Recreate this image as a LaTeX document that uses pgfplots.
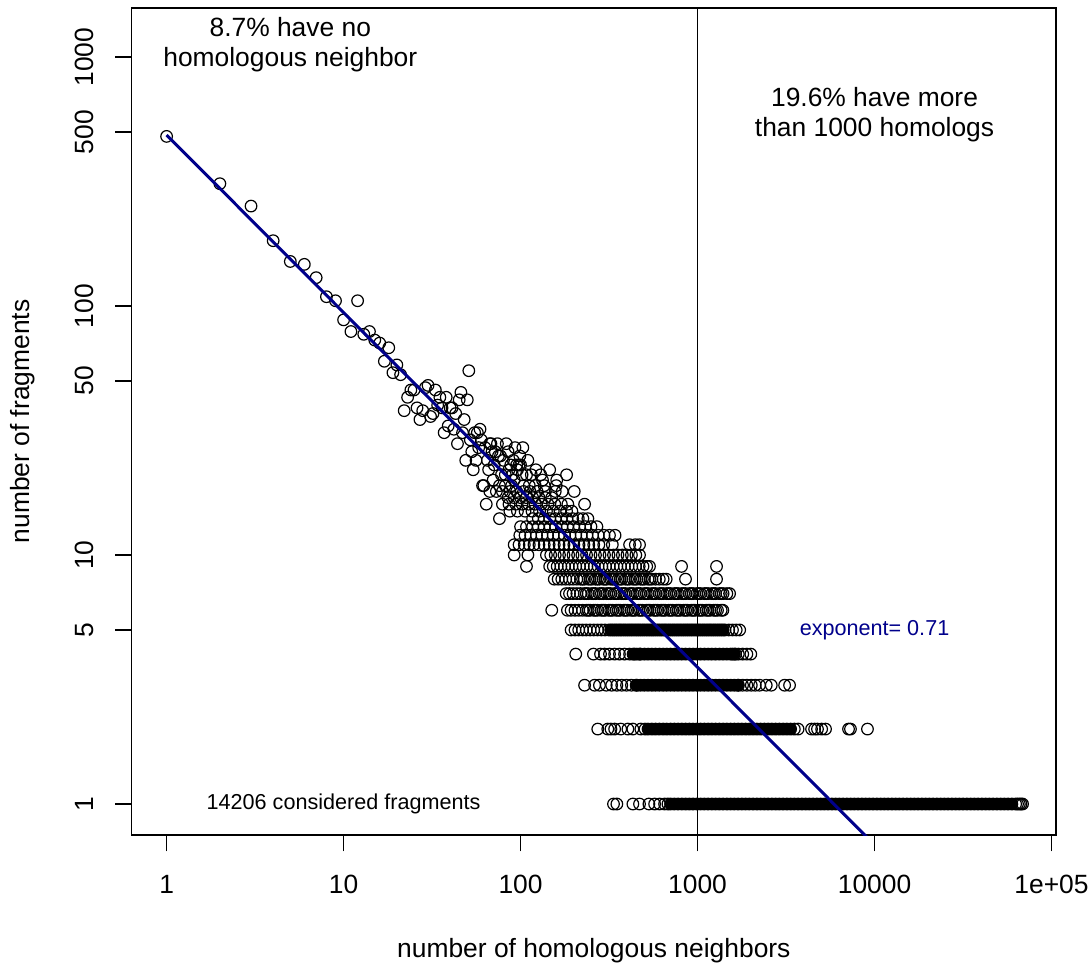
\documentclass[border=0pt]{standalone}
\usepackage{fontspec}
\setmainfont{Liberation Sans}
\usepackage{pgfplots}
\pgfplotsset{compat=1.18}
\definecolor{fitblue}{HTML}{00008B}
\pgfplotsset{
  ring/.style={only marks, mark=o, mark size=2.9bp, mark options={line width=0.6bp, draw=black}},
  core/.style={only marks, mark=*, mark size=2.9bp, mark options={line width=0.6bp, draw=black, fill=black}},
}
\begin{document}
\begin{tikzpicture}[font=\fontsize{13.2bp}{15bp}\selectfont]
\path[use as bounding box] (-65.85bp,-65bp) rectangle (480.15bp,417.5bp);
\begin{loglogaxis}[
  at={(0,0)}, anchor=south west, scale only axis,
  width=462.15bp, height=413.5bp,
  xmin=0.635, xmax=106000, ymin=0.751, ymax=1574,
  clip mode=individual,
  axis line style={line width=0.6bp},
  xtick={1,10,100,1000,10000,100000},
  xticklabels={1,10,100,1000,10000,1e+05},
  ytick={1,5,10,50,100,500,1000},
  yticklabels={1,5,10,50,100,500,1000},
  xminorticks=false, yminorticks=false,
  tick align=outside, tick pos=left,
  major tick length=8.25bp,
  tick style={line width=0.6bp, black},
  tick label style={font=\fontsize{13.2bp}{15bp}\selectfont},
  xticklabel style={inner sep=0pt, anchor=north, yshift=-11.75bp},
  yticklabel style={inner sep=0pt, xshift=-10.95bp, rotate=90, anchor=base},
  xlabel={number of homologous neighbors},
  ylabel={number of fragments},
  label style={font=\fontsize{13.2bp}{15bp}\selectfont, inner sep=0pt},
  xlabel style={at={(axis description cs:0.5,-0.1487)}, anchor=base},
  ylabel style={at={(axis description cs:-0.1104,0.5)}, anchor=base},
]
\addplot[black, line width=0.6bp] coordinates {(1000,0.751) (1000,1574)};
% individual counts at small x
\addplot[ring] coordinates {(1,480)(2,310)(3,252)(4,183)(5,151)(6,147)(7,130)(8,109)(9,105)(10,88)(11,79)(12,105)(13,77)(14,79)(15,73)(16,71)(17,60)(18,68)(19,54)(20,58)(21,53)(22,38)(23,43)(24,46)(25,46)(26,39)(27,35)(28,38)(29,47)(30,48)(31,36)(32,37)(33,46)(34,40)(35,43)(36,39)(37,31)(38,43)(39,33)(40,39)(41,39)(42,32)(43,37)(44,28)(45,42)(46,45)(47,31)(48,35)(49,24)(50,42)(51,55)(52,29)(53,26)(54,22)(55,31)(56,24)(57,31)(58,27)(59,32)(60,29)(61,19)(62,19)(63,27)(64,16)(65,24)(66,22)(67,28)(68,28)(69,26)(70,20)(71,23)(72,26)(74,28)(75,25)(77,25)(80,24)(83,28)(85,26)(86,22)(88,23)(91,24)(93,27)(95,23)(96,22)(98,23)(99,25)(100,23)(103,27)(110,24)(115,21)(122,22)(146,22)};
% rows y = 21 ... 10
\addplot[ring] coordinates {(78,21)(82,21)(90,21)(102,21)(108,21)(130,21)(182,21)(92,20)(133,20)(160,20)(76,19)(82,19)(89,19)(104,19)(112,19)(121,19)(136,19)(159,19)(67,18)(73,18)(79,18)(87,18)(95,18)(104,18)(113,18)(124,18)(138,18)(157,18)(172,18)(201,18)(85,17)(92,17)(100,17)(108,17)(117,17)(127,17)(138,17)(150,17)};
\addplot[ring] coordinates {(79,16)(86,16)(94,16)(102,16)(111,16)(121,16)(131,16)(143,16)(156,16)(170,16)(185,16)(230,16)(87,15)(96,15)(106,15)(116,15)(128,15)(140,15)(153,15)(167,15)(182,15)(195,15)(76,14)(117,14)(126,14)(136,14)(146,14)(157,14)(170,14)(183,14)(197,14)(212,14)(225,14)(240,14)};
\addplot[ring] coordinates {(100,13)(108,13)(117,13)(126,13)(136,13)(147,13)(158,13)(171,13)(184,13)(199,13)(215,13)(232,13)(250,13)(270,13)(99,12)(106,12)(114,12)(123,12)(132,12)(142,12)(153,12)(164,12)(177,12)(190,12)(205,12)(220,12)(237,12)(255,12)(275,12)(296,12)(318,12)(342,12)};
\addplot[ring] coordinates {(92,11)(98,11)(105,11)(112,11)(119,11)(127,11)(136,11)(145,11)(155,11)(165,11)(176,11)(188,11)(200,11)(214,11)(228,11)(243,11)(259,11)(277,11)(295,11)(330,11)(413,11)(445,11)(470,11)(92,10)(110,10)(140,10)(148,10)(157,10)(166,10)(176,10)(187,10)(198,10)(210,10)(222,10)(236,10)(250,10)(265,10)(281,10)(298,10)(316,10)(335,10)(355,10)(376,10)(399,10)(423,10)(448,10)(470,10)};
% rows y = 9, 8
\addplot[ring] coordinates {(108,9)(146,9)(153,9)(161,9)(169,9)(177,9)(186,9)(195,9)(205,9)(215,9)(226,9)(237,9)(249,9)(261,9)(274,9)(288,9)(302,9)(317,9)(333,9)(350,9)(367,9)(386,9)(405,9)(425,9)(446,9)(468,9)(492,9)(516,9)(535,9)(812,9)(1280,9)};
\addplot[ring] coordinates {(155,8)(163,8)(171,8)(180,8)(189,8)(198,8)(208,8)(218,8)(229,8)(241,8)(253,8)(265,8)(279,8)(293,8)(307,8)(323,8)(339,8)(356,8)(373,8)(392,8)(412,8)(432,8)(454,8)(476,8)(500,8)(525,8)(552,8)(579,8)(608,8)(639,8)(665,8)(855,8)(1280,8)};
\addplot[ring] coordinates {(224,8)(247,8)(272,8)(300,8)(331,8)(365,8)(402,8)(443,8)(488,8)(538,8)};
% row y = 7
\addplot[ring] coordinates {(181,7)(189,7)(198,7)(208,7)(218,7)(229,7)(241,7)(253,7)(265,7)(279,7)(293,7)(307,7)(323,7)(339,7)(356,7)(373,7)(392,7)(412,7)(432,7)(454,7)(476,7)(500,7)(525,7)(552,7)(579,7)(608,7)(639,7)(670,7)(704,7)(739,7)(776,7)(815,7)(856,7)(899,7)(943,7)(991,7)(1040,7)(1092,7)(1147,7)(1204,7)(1264,7)(1328,7)(1394,7)(1464,7)(1517,7)};
\addplot[ring] coordinates {(235,7)(259,7)(286,7)(315,7)(347,7)(383,7)(422,7)(465,7)(513,7)(565,7)(623,7)(687,7)(758,7)(835,7)(921,7)(1015,7)(1119,7)(1234,7)(1360,7)};
% row y = 6
\addplot[ring] coordinates {(150,6)(184,6)(193,6)(203,6)(213,6)(224,6)(235,6)(247,6)(259,6)(272,6)(286,6)(300,6)(315,6)(331,6)(347,6)(365,6)(383,6)(402,6)(422,6)(443,6)(465,6)(488,6)(513,6)(538,6)(565,6)(594,6)(623,6)(655,6)(687,6)(722,6)(758,6)(796,6)(835,6)(877,6)(921,6)(967,6)(1015,6)(1066,6)(1119,6)(1175,6)(1234,6)(1296,6)(1360,6)(1390,6)};
\addplot[ring] coordinates {(241,6)(265,6)(293,6)(323,6)(356,6)(392,6)(432,6)(476,6)(525,6)(579,6)(639,6)(704,6)(776,6)(856,6)(943,6)(1040,6)(1147,6)(1264,6)};
% row y = 5
\addplot[ring] coordinates {(193,5)(203,5)(213,5)(224,5)(235,5)(247,5)(259,5)(272,5)(286,5)(300,5)(315,5)(331,5)(347,5)(365,5)(383,5)(402,5)(422,5)(443,5)(465,5)(488,5)(513,5)(538,5)(565,5)(594,5)(623,5)(655,5)(687,5)(722,5)(758,5)(796,5)(835,5)(877,5)(921,5)(967,5)(1015,5)(1066,5)(1119,5)(1175,5)(1234,5)(1296,5)(1360,5)(1428,5)(1500,5)(1575,5)(1654,5)(1730,5)};
\addplot[core] coordinates {(323,5)(339,5)(356,5)(373,5)(392,5)(412,5)(432,5)(454,5)(476,5)(500,5)(525,5)(552,5)(579,5)(608,5)(639,5)(670,5)(704,5)(739,5)(776,5)(815,5)(856,5)(899,5)(943,5)(991,5)(1040,5)(1092,5)(1147,5)(1204,5)(1264,5)(1328,5)(1394,5)};
% row y = 4
\addplot[ring] coordinates {(205,4)(258,4)(283,4)(298,4)(318,4)(340,4)(362,4)(387,4)(413,4)(440,4)(470,4)(1572,4)(1640,4)(1700,4)(1800,4)(1900,4)(2000,4)};
\addplot[core] coordinates {(432,4)(454,4)(476,4)(500,4)(525,4)(552,4)(579,4)(608,4)(639,4)(670,4)(704,4)(739,4)(776,4)(815,4)(856,4)(899,4)(943,4)(991,4)(1040,4)(1092,4)(1147,4)(1204,4)(1264,4)(1328,4)(1394,4)(1464,4)(1537,4)(1614,4)};
% row y = 3
\addplot[ring] coordinates {(230,3)(262,3)(279,3)(305,3)(327,3)(350,3)(373,3)(397,3)(423,3)(450,3)(1700,3)(1796,3)(1900,3)(2012,3)(2120,3)(2240,3)(2444,3)(2609,3)(3104,3)(3310,3)};
\addplot[core] coordinates {(454,3)(476,3)(500,3)(525,3)(552,3)(579,3)(608,3)(639,3)(670,3)(704,3)(739,3)(776,3)(815,3)(856,3)(899,3)(943,3)(991,3)(1040,3)(1092,3)(1147,3)(1204,3)(1264,3)(1328,3)(1394,3)(1464,3)(1537,3)(1614,3)(1695,3)};
% row y = 2
\addplot[ring] coordinates {(273,2)(311,2)(324,2)(340,2)(368,2)(404,2)(431,2)(478,2)(505,2)(3523,2)(3700,2)(4406,2)(4585,2)(4760,2)(5025,2)(5285,2)(7130,2)(7310,2)(9120,2)};
\addplot[core] coordinates {(525,2)(552,2)(579,2)(608,2)(639,2)(670,2)(704,2)(739,2)(776,2)(815,2)(856,2)(899,2)(943,2)(991,2)(1040,2)(1092,2)(1147,2)(1204,2)(1264,2)(1328,2)(1394,2)(1464,2)(1537,2)(1614,2)(1695,2)(1779,2)(1868,2)(1962,2)(2060,2)(2163,2)(2271,2)(2385,2)(2504,2)(2629,2)(2761,2)(2899,2)(3044,2)(3196,2)(3356,2)};
% row y = 1
\addplot[ring] coordinates {(335,1)(350,1)(431,1)(470,1)(531,1)(572,1)(610,1)(651,1)(680,1)(62688,1)(64240,1)(65823,1)(67200,1)(68600,1)};
\addplot[core] coordinates {(704,1)(739,1)(776,1)(815,1)(856,1)(899,1)(943,1)(991,1)(1040,1)(1092,1)(1147,1)(1204,1)(1264,1)(1328,1)(1394,1)(1464,1)(1537,1)(1614,1)(1695,1)(1779,1)(1868,1)(1962,1)(2060,1)(2163,1)(2271,1)(2385,1)(2504,1)(2629,1)(2761,1)(2899,1)(3044,1)(3196,1)(3356,1)(3523,1)(3700,1)(3885,1)(4079,1)(4283,1)(4497,1)(4722,1)(4958,1)(5206,1)(5466,1)(5740,1)(6027,1)(6328,1)(6644,1)(6977,1)(7326,1)(7692,1)(8077,1)(8480,1)(8904,1)(9350,1)(9817,1)(10308,1)(10823,1)(11365,1)(11933,1)(12530,1)(13156,1)(13814,1)(14505,1)(15230,1)(15991,1)(16791,1)(17630,1)(18512,1)(19438,1)(20409,1)(21430,1)(22501,1)(23627,1)(24808,1)(26048,1)(27351,1)(28718,1)(30154,1)(31662,1)(33245,1)(34907,1)(36653,1)(38485,1)(40409,1)(42430,1)(44551,1)(46779,1)(49118,1)(51574,1)(54153,1)(56860,1)(59703,1)};
% power-law fit
\addplot[fitblue, line width=1.5bp] coordinates {(1,486) (10000,0.686)};
\node[align=center] at (axis cs:5,1117) {8.7\% have no\\homologous neighbor};
\node[align=center] at (axis cs:10000,585) {19.6\% have more\\than 1000 homologs};
\node[text=fitblue, font=\fontsize{10.8bp}{13bp}\selectfont] at (axis cs:10000,5) {exponent= 0.71};
\node[font=\fontsize{10.8bp}{13bp}\selectfont] at (axis cs:10,1) {14206 considered fragments};
\end{loglogaxis}
\end{tikzpicture}
\end{document}
